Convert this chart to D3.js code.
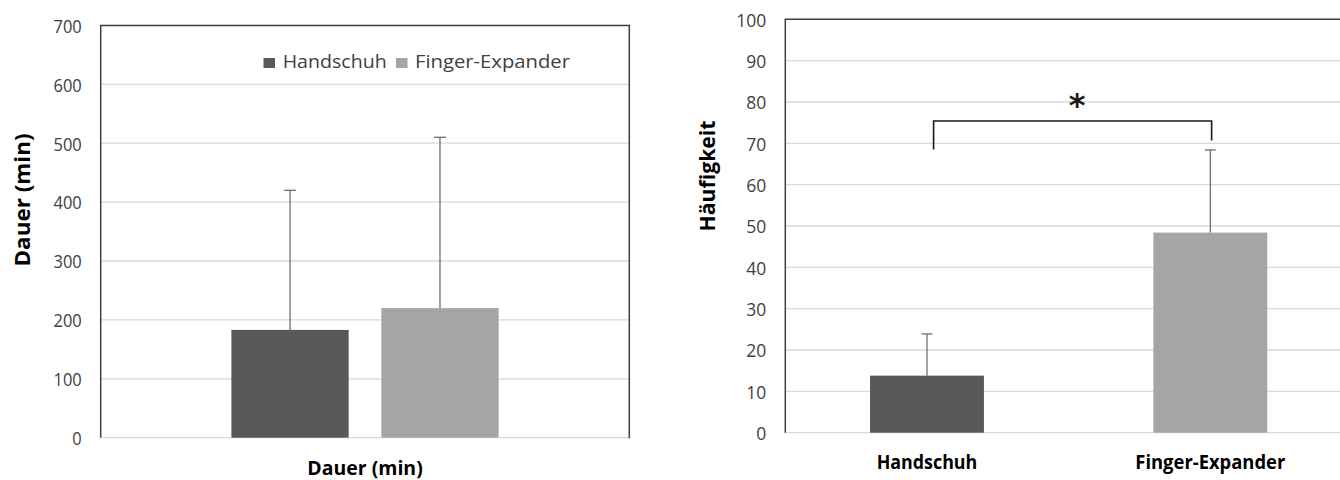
<!DOCTYPE html>
<html>
<head>
<meta charset="utf-8">
<script src="https://cdn.jsdelivr.net/npm/d3@7"></script>
<style>
  html, body { margin: 0; padding: 0; background: #fff; }
  svg { display: block; }
  text { font-family: "Open Sans", Lato, sans-serif; font-variant-ligatures: none; }
</style>
</head>
<body>
<svg id="chart" width="1340" height="480"></svg>
<script>
// ---- data ----
const seriesNames = ["Handschuh", "Finger-Expander"];
const seriesColors = ["#595959", "#a5a5a5"];

// Dauer panel (one category, two series)
const dauerCategory = ["Dauer (min)"];
const dauerMean = [183, 220];
const dauerSD = [237, 290];
const dauerTicks = [0, 100, 200, 300, 400, 500, 600, 700];

// Häufigkeit panel (two categories)
const freqCategories = ["Handschuh", "Finger-Expander"];
const freqMean = [13.8, 48.4];
const freqSD = [10.1, 20.0];
const freqTicks = [0, 10, 20, 30, 40, 50, 60, 70, 80, 90, 100];

// significance bracket: left foot, bar height, right foot (Häufigkeit units)
const sigBracket = [68.5, 75.4, 70.7];
const sigLabel = "*";

// ---- drawing ----
const svg = d3.select("#chart");
const gridColor = "#d9d9d9";
const axisColor = "#404040";
const errColor = "#707070";

// upright label with a fixed rendered width
function label(g, x, y, str, o) {
  const t = g.append("text")
    .attr("x", x).attr("y", y)
    .attr("text-anchor", o.anchor || "start")
    .attr("font-size", o.size)
    .attr("font-weight", o.weight || 400)
    .attr("fill", o.color || "#595959")
    .text(str);
  if (o.len) t.attr("textLength", o.len).attr("lengthAdjust", "spacingAndGlyphs");
  if (o.family) t.style("font-family", o.family);
  return t;
}

function vTitle(g, x, y, str, size, len) {
  return g.append("text")
    .attr("transform", `translate(${x},${y}) rotate(-90)`)
    .attr("text-anchor", "middle")
    .attr("font-size", size)
    .attr("font-weight", 700)
    .attr("fill", "#000")
    .attr("textLength", len)
    .attr("lengthAdjust", "spacingAndGlyphs")
    .text(str);
}

function tickLabels(ax, digitW) {
  ax.select(".domain").remove();
  ax.selectAll(".tick text").remove();
  ax.selectAll(".tick").each(function(d) {
    label(d3.select(this), -19, 6.8, d, {
      anchor: "end", size: 19, color: "#404040", len: String(d).length * digitW
    });
  });
}

// ===== Left panel: Dauer =====
{
  const L = 100.7, R = 629.3, T = 25.4, B = 437.7;
  const g = svg.append("g");
  const y = d3.scaleLinear().domain([0, 700]).range([B, T]);
  const x0 = d3.scaleBand().domain(dauerCategory).range([L, R])
    .paddingInner(0).paddingOuter(0.489);
  const x1 = d3.scaleBand().domain(seriesNames).range([0, x0.bandwidth()])
    .paddingInner(0.218).paddingOuter(0);

  // gridlines
  g.append("g").selectAll("line").data(dauerTicks).join("line")
    .attr("x1", L).attr("x2", R)
    .attr("y1", d => y(d)).attr("y2", d => y(d))
    .attr("stroke", gridColor).attr("stroke-width", 1.3);

  // tick labels
  const yAxis = d3.axisLeft(y).tickValues(dauerTicks).tickSize(0);
  const ax = g.append("g").attr("transform", `translate(${L},0)`).call(yAxis);
  tickLabels(ax, 9.4);

  // bars with upper error bars
  const cat = dauerCategory[0];
  const bars = g.append("g");
  seriesNames.forEach((s, i) => {
    const bx = x0(cat) + x1(s);
    bars.append("rect")
      .attr("x", bx).attr("width", x1.bandwidth())
      .attr("y", y(dauerMean[i])).attr("height", y(0) - y(dauerMean[i]))
      .attr("fill", seriesColors[i]);
    const cx = bx + x1.bandwidth() / 2;
    const top = dauerMean[i] + dauerSD[i];
    bars.append("line")
      .attr("x1", cx).attr("x2", cx)
      .attr("y1", y(dauerMean[i])).attr("y2", y(top))
      .attr("stroke", errColor).attr("stroke-width", 1.3);
    bars.append("line")
      .attr("x1", cx - 6).attr("x2", cx + 6)
      .attr("y1", y(top)).attr("y2", y(top))
      .attr("stroke", errColor).attr("stroke-width", 1.3);
  });

  // frame: left, top, right
  g.append("path")
    .attr("d", `M${L},${B} V${T} H${R} V${B + 0.6}`)
    .attr("fill", "none").attr("stroke", axisColor).attr("stroke-width", 1.5);

  // legend
  const lg = g.append("g");
  const legX = [263.5, 396];
  const legTextX = [282.7, 415];
  const legLen = [104, 155];
  seriesNames.forEach((s, i) => {
    lg.append("rect").attr("x", legX[i]).attr("y", 58)
      .attr("width", 11.5).attr("height", 10).attr("fill", seriesColors[i]);
    label(lg, legTextX[i], 67.7, s, { size: 18, color: "#404040", len: legLen[i] });
  });

  // axis titles
  label(g, (L + R) / 2, 475, cat, { anchor: "middle", size: 19.8, weight: 700, color: "#000", len: 115.5 });
  vTitle(g, 29.5, 200, "Dauer (min)", 21, 133);
}

// ===== Right panel: Häufigkeit =====
{
  const L = 785.3, R = 1352, T = 19.3, B = 432.7;
  const g = svg.append("g");
  const y = d3.scaleLinear().domain([0, 100]).range([B, T]);
  const x = d3.scaleBand().domain(freqCategories).range([L, R])
    .paddingInner(0.598).paddingOuter(0.299);

  g.append("g").selectAll("line").data(freqTicks).join("line")
    .attr("x1", L).attr("x2", R)
    .attr("y1", d => y(d)).attr("y2", d => y(d))
    .attr("stroke", gridColor).attr("stroke-width", 1.3);

  const yAxis = d3.axisLeft(y).tickValues(freqTicks).tickSize(0);
  const ax = g.append("g").attr("transform", `translate(${L},0)`).call(yAxis);
  tickLabels(ax, 10);

  const catLen = [100.7, 150];
  freqCategories.forEach((c, i) => {
    g.append("rect")
      .attr("x", x(c)).attr("width", x.bandwidth())
      .attr("y", y(freqMean[i])).attr("height", y(0) - y(freqMean[i]))
      .attr("fill", seriesColors[i]);
    const cx = x(c) + x.bandwidth() / 2;
    const top = freqMean[i] + freqSD[i];
    g.append("line")
      .attr("x1", cx).attr("x2", cx)
      .attr("y1", y(freqMean[i])).attr("y2", y(top))
      .attr("stroke", errColor).attr("stroke-width", 1.3);
    g.append("line")
      .attr("x1", cx - 5.5).attr("x2", cx + 5.5)
      .attr("y1", y(top)).attr("y2", y(top))
      .attr("stroke", errColor).attr("stroke-width", 1.3);
    label(g, cx, 469.3, c, { anchor: "middle", size: 20, weight: 700, color: "#000", len: catLen[i] });
  });

  // frame: left axis and top edge
  g.append("path")
    .attr("d", `M${L},${B} V${T} H${R}`)
    .attr("fill", "none").attr("stroke", axisColor).attr("stroke-width", 1.5);

  // significance bracket
  const xa = x(freqCategories[0]) + x.bandwidth() / 2 + 6.6;
  const xb = x(freqCategories[1]) + x.bandwidth() / 2 + 1.3;
  g.append("path")
    .attr("d", `M${xa},${y(sigBracket[0])} V${y(sigBracket[1])} H${xb} V${y(sigBracket[2])}`)
    .attr("fill", "none").attr("stroke", "#1a1a1a").attr("stroke-width", 1.6);
  label(g, (xa + xb) / 2 + 4.5, 115.5, sigLabel, {
    anchor: "middle", size: 32, weight: 700, color: "#1a1a1a", family: "'DejaVu Sans', sans-serif"
  });

  vTitle(g, 714.5, 176, "Häufigkeit", 21.5, 111);
}
</script>
</body>
</html>
